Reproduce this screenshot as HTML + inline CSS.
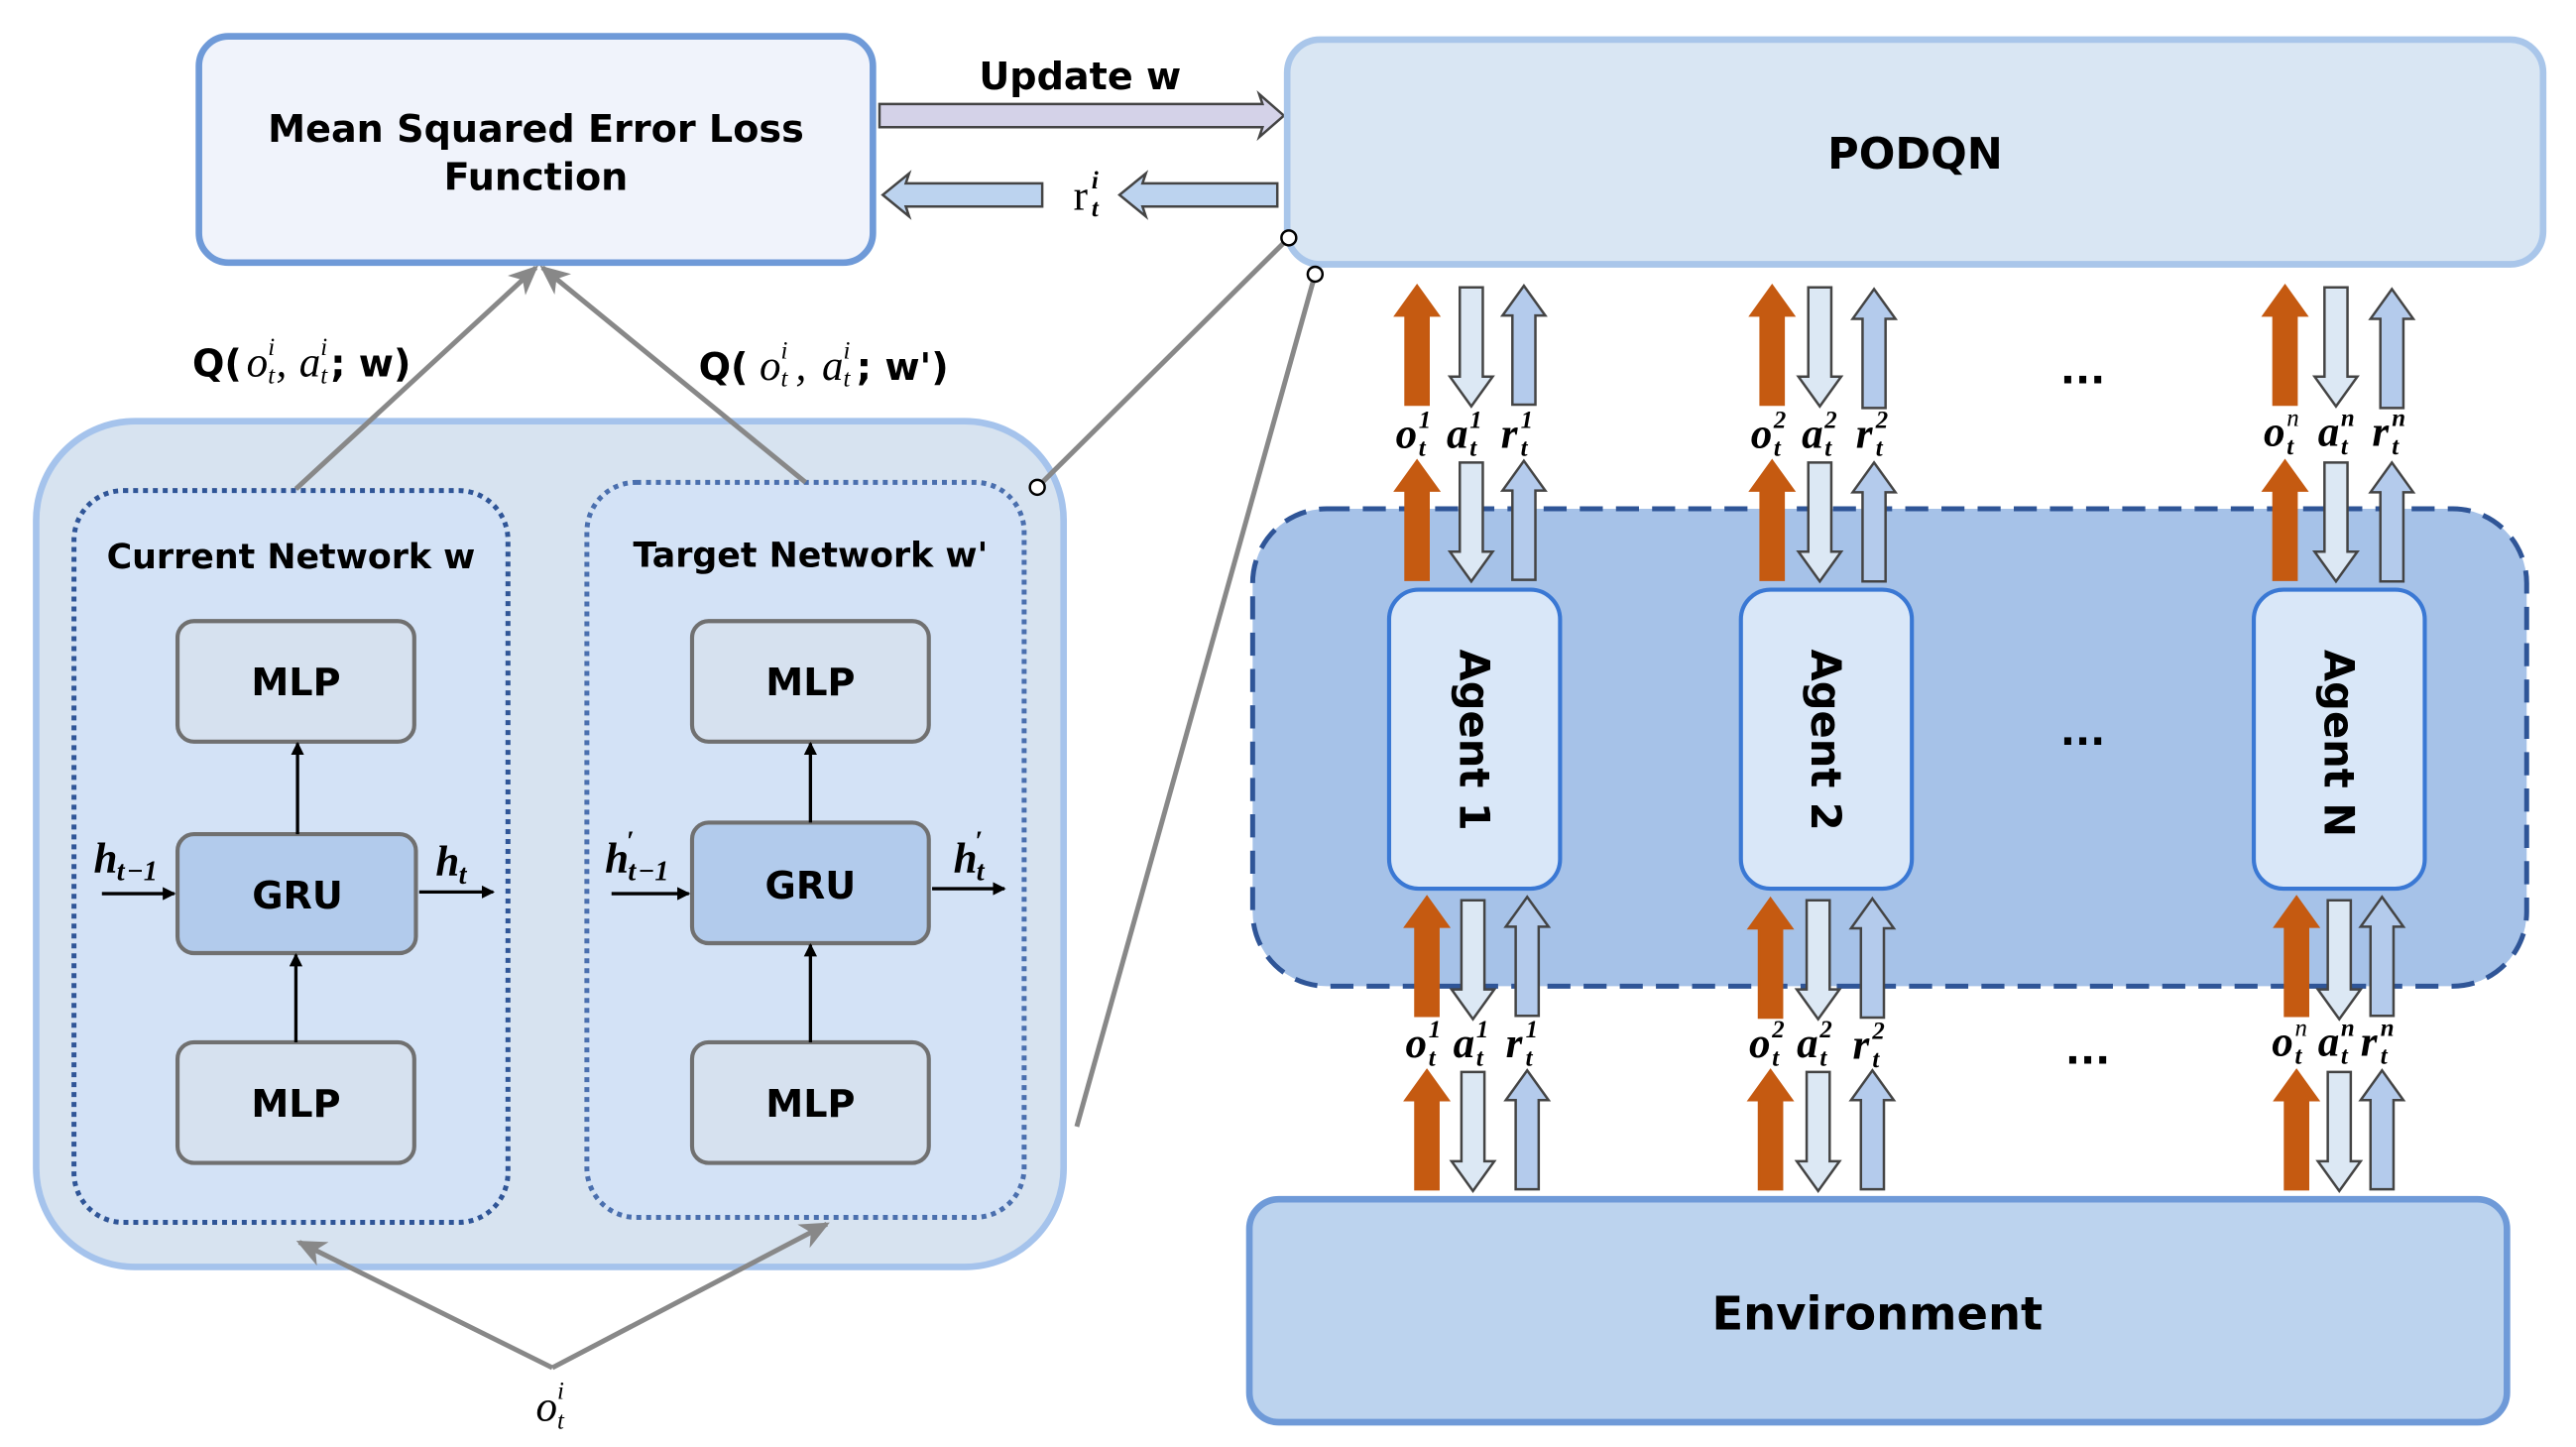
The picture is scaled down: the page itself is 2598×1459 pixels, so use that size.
<!DOCTYPE html>
<html><head><meta charset="utf-8"><style>
html,body{margin:0;padding:0;background:#fff;width:2598px;height:1459px;overflow:hidden}
svg{display:block}
.b{font-family:"DejaVu Sans","Liberation Sans",sans-serif;font-weight:bold;fill:#000}
.m{font-family:"Liberation Serif","DejaVu Serif",serif;font-style:italic;font-weight:bold;fill:#000}
.mn{font-family:"Liberation Serif","DejaVu Serif",serif;font-style:normal;font-weight:bold;fill:#000}
.L text{font-family:"Liberation Serif","DejaVu Serif",serif;font-style:italic;font-weight:bold;fill:#000}
.L .big{font-size:26px}
.L .s{font-size:15px}
</style></head><body>
<svg width="2598" height="1459" viewBox="0 0 1567 876" preserveAspectRatio="none" xmlns="http://www.w3.org/2000/svg">
<defs>
<path id="ua" d="M0,0 L13,18 L7,18 L7,72 L-7,72 L-7,18 L-13,18 Z"/>
<marker id="ah" markerWidth="8" markerHeight="8" refX="7" refY="4" orient="auto" markerUnits="userSpaceOnUse"><path d="M0,0 L8,4 L0,8 Z" fill="#000"/></marker>
<marker id="gh" markerWidth="20" markerHeight="16" refX="16" refY="8" orient="auto" markerUnits="userSpaceOnUse"><path d="M0,0 L18,8 L0,16 L5,8 Z" fill="#888"/></marker>
</defs>

<rect x="121" y="22" width="410" height="137" rx="18" fill="#f0f3fb" stroke="#6f9ad8" stroke-width="4"/>
<text class="b" x="326" y="86" font-size="23" text-anchor="middle">Mean Squared Error Loss</text>
<text class="b" x="326" y="115" font-size="23" text-anchor="middle">Function</text>

<text class="b" x="657" y="54" font-size="23" text-anchor="middle">Update w</text>
<path d="M535,63 L768,63 L766,57 L781,70 L766,83 L768,77 L535,77 Z" fill="#d4d2e8" stroke="#444" stroke-width="1.5"/>
<path d="M634,111 L551,111 L553,105 L537,118 L553,131 L551,125 L634,125 Z" fill="#bcd3ef" stroke="#444" stroke-width="1.5"/>
<path d="M777,111 L695,111 L697,105 L681,118 L697,131 L695,125 L777,125 Z" fill="#bcd3ef" stroke="#444" stroke-width="1.5"/>
<g class="L"><text class="big" x="653" y="127" style="font-style:normal;font-weight:normal">r</text><text class="s" x="664" y="114">i</text><text class="s" x="664" y="131">t</text></g>

<rect x="783" y="24" width="764" height="136" rx="20" fill="#d9e6f3" stroke="#a9c6ea" stroke-width="4"/>
<text class="b" x="1165" y="102" font-size="26" text-anchor="middle">PODQN</text>

<rect x="22" y="255" width="625" height="512" rx="60" fill="#d7e3f0" stroke="#a5c3ec" stroke-width="4"/>
<rect x="45" y="297" width="264" height="443" rx="30" fill="#d3e2f6" stroke="#2f5597" stroke-width="3" stroke-dasharray="3,3"/>
<rect x="357" y="292" width="266" height="445" rx="30" fill="#d3e2f6" stroke="#4a6fae" stroke-width="3" stroke-dasharray="3,3"/>
<text class="b" x="177" y="344" font-size="21" text-anchor="middle">Current Network w</text>
<text class="b" x="493" y="343" font-size="21" text-anchor="middle">Target Network w'</text>

<g stroke="#707070" stroke-width="2.5">
<rect x="108" y="376" width="144" height="73" rx="10" fill="#d6e1ef"/>
<rect x="108" y="505" width="145" height="72" rx="10" fill="#b2cbec"/>
<rect x="108" y="631" width="144" height="73" rx="10" fill="#d6e1ef"/>
<rect x="421" y="376" width="144" height="73" rx="10" fill="#d6e1ef"/>
<rect x="421" y="498" width="144" height="73" rx="10" fill="#b2cbec"/>
<rect x="421" y="631" width="144" height="73" rx="10" fill="#d6e1ef"/>
</g>
<g class="b" font-size="23" text-anchor="middle">
<text x="180" y="421">MLP</text><text x="181" y="550">GRU</text><text x="180" y="676">MLP</text>
<text x="493" y="421">MLP</text><text x="493" y="544">GRU</text><text x="493" y="676">MLP</text>
</g>
<g stroke="#000" stroke-width="2" marker-end="url(#ah)">
<line x1="181" y1="505" x2="181" y2="450"/>
<line x1="180" y1="631" x2="180" y2="578"/>
<line x1="493" y1="498" x2="493" y2="450"/>
<line x1="493" y1="631" x2="493" y2="572"/>
<line x1="62" y1="541" x2="106" y2="541"/>
<line x1="255" y1="540" x2="300" y2="540"/>
<line x1="372" y1="541" x2="419" y2="541"/>
<line x1="567" y1="538" x2="611" y2="538"/>
</g>
<g class="L">
<text class="big" x="57" y="528">h</text><text x="71" y="533" style="font-size:17px">t</text><text x="77" y="533" class="mn" style="font-size:17px">−1</text>
<text class="big" x="265" y="530">h</text><text x="279" y="535" style="font-size:17px">t</text>
<text class="big" x="368" y="528">h</text><text x="381" y="515" class="mn" style="font-size:17px">′</text><text x="382" y="533" style="font-size:17px">t</text><text x="388" y="533" class="mn" style="font-size:17px">−1</text>
<text class="big" x="580" y="528">h</text><text x="593" y="515" class="mn" style="font-size:17px">′</text><text x="594" y="533" style="font-size:17px">t</text>
</g>

<g stroke="#888" stroke-width="3" fill="none">
<line x1="180" y1="296" x2="326" y2="162" marker-end="url(#gh)"/>
<line x1="490" y1="292" x2="330" y2="162" marker-end="url(#gh)"/>
<line x1="336" y1="828" x2="182" y2="752" marker-end="url(#gh)"/>
<line x1="336" y1="828" x2="503" y2="741" marker-end="url(#gh)"/>
<line x1="784" y1="144" x2="631" y2="295"/>
<line x1="800" y1="166" x2="655" y2="682"/>
</g>
<g fill="#fff" stroke="#000" stroke-width="1.5">
<circle cx="784" cy="144" r="4.5"/><circle cx="800" cy="166" r="4.5"/><circle cx="631" cy="295" r="4.5"/>
</g>

<!-- Q labels -->
<g class="L">
<text class="b" x="117" y="228" style="font-size:23px;font-style:normal;font-family:'DejaVu Sans',sans-serif">Q(</text>
<text class="big" x="150" y="228" style="font-weight:normal">o</text><text class="s" x="163" y="215" style="font-weight:normal">i</text><text class="s" x="163" y="232" style="font-weight:normal">t</text>
<text class="big" x="168" y="228" style="font-weight:normal">,</text>
<text class="big" x="182" y="228" style="font-weight:normal">a</text><text class="s" x="195" y="215" style="font-weight:normal">i</text><text class="s" x="195" y="232" style="font-weight:normal">t</text>
<text class="b" x="201" y="228" style="font-size:23px;font-style:normal;font-family:'DejaVu Sans',sans-serif">; w)</text>

<text class="b" x="425" y="230" style="font-size:23px;font-style:normal;font-family:'DejaVu Sans',sans-serif">Q(</text>
<text class="big" x="462" y="230" style="font-weight:normal">o</text><text class="s" x="475" y="217" style="font-weight:normal">i</text><text class="s" x="475" y="234" style="font-weight:normal">t</text>
<text class="big" x="484" y="230" style="font-weight:normal">,</text>
<text class="big" x="500" y="230" style="font-weight:normal">a</text><text class="s" x="513" y="217" style="font-weight:normal">i</text><text class="s" x="513" y="234" style="font-weight:normal">t</text>
<text class="b" x="521" y="230" style="font-size:23px;font-style:normal;font-family:'DejaVu Sans',sans-serif">; w')</text>

<text class="big" x="326" y="860" style="font-weight:normal">o</text><text class="s" x="339" y="847" style="font-weight:normal">i</text><text class="s" x="339" y="865" style="font-weight:normal">t</text>
</g>

<rect x="762" y="308" width="775" height="289" rx="45" fill="#a6c2e8" stroke="#2f5597" stroke-width="3" stroke-dasharray="14,8"/>
<g fill="#d9e7f8" stroke="#3a78d4" stroke-width="2.5">
<rect x="845" y="357" width="104" height="181" rx="18"/>
<rect x="1059" y="357" width="104" height="181" rx="18"/>
<rect x="1371" y="357" width="104" height="181" rx="18"/>
</g>
<g class="b" font-size="25" text-anchor="middle">
<text transform="translate(888,448) rotate(90)">Agent 1</text>
<text transform="translate(1102,448) rotate(90)">Agent 2</text>
<text transform="translate(1414,450) rotate(90)">Agent N</text>
</g>
<g class="b" font-size="24" text-anchor="middle" font-weight="normal">
<text x="1267" y="232">...</text><text x="1267" y="451">...</text><text x="1270" y="644">...</text>
</g>

<rect x="760" y="726" width="765" height="135" rx="18" fill="#bcd3ee" stroke="#6f9ad8" stroke-width="4"/>
<text class="b" x="1142" y="805" font-size="28" text-anchor="middle">Environment</text>

<g stroke-width="1.5">
<use href="#ua" transform="translate(862,173)" fill="#c55a11" stroke="#c55a11"/>
<use href="#ua" transform="translate(895,246) scale(1,-1)" fill="#dce8f4" stroke="#444"/>
<use href="#ua" transform="translate(927,173)" fill="#b4cbec" stroke="#444"/>
<use href="#ua" transform="translate(1078,173)" fill="#c55a11" stroke="#c55a11"/>
<use href="#ua" transform="translate(1107,246) scale(1,-1)" fill="#dce8f4" stroke="#444"/>
<use href="#ua" transform="translate(1140,175)" fill="#b4cbec" stroke="#444"/>
<use href="#ua" transform="translate(1390,173)" fill="#c55a11" stroke="#c55a11"/>
<use href="#ua" transform="translate(1421,246) scale(1,-1)" fill="#dce8f4" stroke="#444"/>
<use href="#ua" transform="translate(1455,175)" fill="#b4cbec" stroke="#444"/>
<use href="#ua" transform="translate(862,279)" fill="#c55a11" stroke="#c55a11"/>
<use href="#ua" transform="translate(895,352) scale(1,-1)" fill="#dce8f4" stroke="#444"/>
<use href="#ua" transform="translate(927,279)" fill="#b4cbec" stroke="#444"/>
<use href="#ua" transform="translate(1078,279)" fill="#c55a11" stroke="#c55a11"/>
<use href="#ua" transform="translate(1107,352) scale(1,-1)" fill="#dce8f4" stroke="#444"/>
<use href="#ua" transform="translate(1140,280)" fill="#b4cbec" stroke="#444"/>
<use href="#ua" transform="translate(1390,279)" fill="#c55a11" stroke="#c55a11"/>
<use href="#ua" transform="translate(1421,352) scale(1,-1)" fill="#dce8f4" stroke="#444"/>
<use href="#ua" transform="translate(1455,280)" fill="#b4cbec" stroke="#444"/>
<use href="#ua" transform="translate(868,543)" fill="#c55a11" stroke="#c55a11"/>
<use href="#ua" transform="translate(896,617) scale(1,-1)" fill="#dce8f4" stroke="#444"/>
<use href="#ua" transform="translate(929,543)" fill="#b4cbec" stroke="#444"/>
<use href="#ua" transform="translate(1077,544)" fill="#c55a11" stroke="#c55a11"/>
<use href="#ua" transform="translate(1106,617) scale(1,-1)" fill="#dce8f4" stroke="#444"/>
<use href="#ua" transform="translate(1139,544)" fill="#b4cbec" stroke="#444"/>
<use href="#ua" transform="translate(1397,543)" fill="#c55a11" stroke="#c55a11"/>
<use href="#ua" transform="translate(1423,617) scale(1,-1)" fill="#dce8f4" stroke="#444"/>
<use href="#ua" transform="translate(1449,543)" fill="#b4cbec" stroke="#444"/>
<use href="#ua" transform="translate(868,648)" fill="#c55a11" stroke="#c55a11"/>
<use href="#ua" transform="translate(896,721) scale(1,-1)" fill="#dce8f4" stroke="#444"/>
<use href="#ua" transform="translate(929,648)" fill="#b4cbec" stroke="#444"/>
<use href="#ua" transform="translate(1077,648)" fill="#c55a11" stroke="#c55a11"/>
<use href="#ua" transform="translate(1106,721) scale(1,-1)" fill="#dce8f4" stroke="#444"/>
<use href="#ua" transform="translate(1139,648)" fill="#b4cbec" stroke="#444"/>
<use href="#ua" transform="translate(1397,648)" fill="#c55a11" stroke="#c55a11"/>
<use href="#ua" transform="translate(1423,721) scale(1,-1)" fill="#dce8f4" stroke="#444"/>
<use href="#ua" transform="translate(1449,648)" fill="#b4cbec" stroke="#444"/>
</g>

<!-- column labels -->
<g class="L">
<!-- upper col 1 -->
<text class="big" x="849" y="271">o</text><text class="s mn" x="863" y="259">1</text><text class="s" x="863" y="276">t</text>
<text class="big" x="880" y="271">a</text><text class="s mn" x="894" y="259">1</text><text class="s" x="894" y="276">t</text>
<text class="big" x="913" y="271">r</text><text class="s mn" x="925" y="259">1</text><text class="s" x="925" y="276">t</text>
<!-- upper col 2 -->
<text class="big" x="1065" y="271">o</text><text class="s mn" x="1079" y="259">2</text><text class="s" x="1079" y="276">t</text>
<text class="big" x="1096" y="271">a</text><text class="s mn" x="1110" y="259">2</text><text class="s" x="1110" y="276">t</text>
<text class="big" x="1129" y="271">r</text><text class="s mn" x="1141" y="259">2</text><text class="s" x="1141" y="276">t</text>
<!-- upper col N -->
<text class="big" x="1377" y="270">o</text><text class="s mn" x="1391" y="258" style="font-weight:normal">n</text><text class="s" x="1391" y="275">t</text>
<text class="big" x="1410" y="270">a</text><text class="s" x="1424" y="258">n</text><text class="s" x="1424" y="275">t</text>
<text class="big" x="1443" y="270">r</text><text class="s" x="1455" y="258">n</text><text class="s" x="1455" y="275">t</text>
<!-- lower col 1 -->
<text class="big" x="855" y="640">o</text><text class="s mn" x="869" y="628">1</text><text class="s" x="869" y="645">t</text>
<text class="big" x="884" y="640">a</text><text class="s mn" x="898" y="628">1</text><text class="s" x="898" y="645">t</text>
<text class="big" x="916" y="640">r</text><text class="s mn" x="928" y="628">1</text><text class="s" x="928" y="645">t</text>
<!-- lower col 2 -->
<text class="big" x="1064" y="640">o</text><text class="s mn" x="1078" y="628">2</text><text class="s" x="1078" y="645">t</text>
<text class="big" x="1093" y="640">a</text><text class="s mn" x="1107" y="628">2</text><text class="s" x="1107" y="645">t</text>
<text class="big" x="1127" y="641">r</text><text class="s mn" x="1139" y="629">2</text><text class="s" x="1139" y="646">t</text>
<!-- lower col N -->
<text class="big" x="1382" y="639">o</text><text class="s mn" x="1396" y="627" style="font-weight:normal">n</text><text class="s" x="1396" y="644">t</text>
<text class="big" x="1410" y="639">a</text><text class="s" x="1424" y="627">n</text><text class="s" x="1424" y="644">t</text>
<text class="big" x="1436" y="639">r</text><text class="s" x="1448" y="627">n</text><text class="s" x="1448" y="644">t</text>
</g>
</svg>
</body></html>
